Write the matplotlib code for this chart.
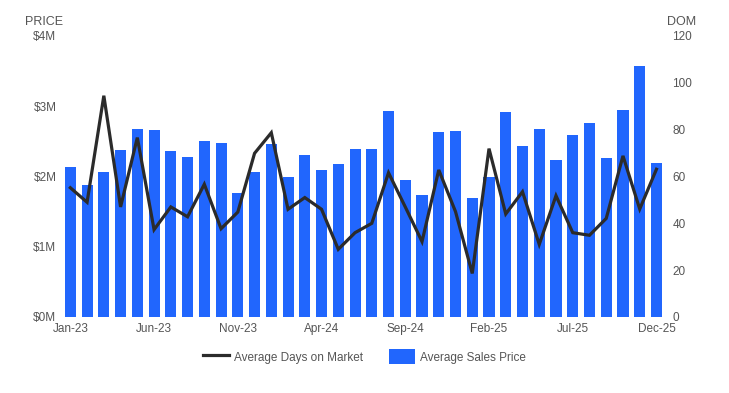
import numpy as np
import matplotlib
matplotlib.use('Agg')
import matplotlib.pyplot as plt
from matplotlib.lines import Line2D
from matplotlib.patches import Patch

plt.rcParams['font.family'] = ['Liberation Sans', 'DejaVu Sans']

''' data read off the reference chart '''
months = ['Jan-23', 'Feb-23', 'Mar-23', 'Apr-23', 'May-23', 'Jun-23', 'Jul-23', 'Aug-23',
          'Sep-23', 'Oct-23', 'Nov-23', 'Dec-23', 'Jan-24', 'Feb-24', 'Mar-24', 'Apr-24',
          'May-24', 'Jun-24', 'Jul-24', 'Aug-24', 'Sep-24', 'Oct-24', 'Nov-24', 'Dec-24',
          'Jan-25', 'Feb-25', 'Mar-25', 'Apr-25', 'May-25', 'Jun-25', 'Jul-25', 'Aug-25',
          'Sep-25', 'Oct-25', 'Nov-25', 'Dec-25']
price_m = [2.14, 1.88, 2.06, 2.38, 2.68, 2.66, 2.36, 2.28, 2.51, 2.48, 1.77, 2.06,
           2.46, 1.99, 2.31, 2.09, 2.18, 2.39, 2.39, 2.93, 1.95, 1.74, 2.63, 2.65,
           1.69, 1.99, 2.92, 2.43, 2.68, 2.24, 2.59, 2.76, 2.26, 2.95, 3.57, 2.19]
dom = [55.2, 49.0, 94.5, 47.0, 76.6, 37.3, 47.0, 42.8, 56.7, 37.7, 44.8, 69.9,
       78.7, 46.0, 51.0, 46.0, 28.9, 36.0, 40.0, 61.6, 47.0, 32.2, 62.8, 45.0,
       18.6, 71.9, 44.0, 53.5, 31.0, 51.8, 36.0, 34.9, 42.1, 68.8, 46.1, 63.1]
price_ticks = [0, 1, 2, 3, 4]
dom_ticks = [0, 20, 40, 60, 80, 100, 120]

blue = '#2166fd'
dark = '#2b2b2b'
grey = '#555555'

fig = plt.figure(figsize=(7.29, 3.93), dpi=100)
ax = fig.add_axes([0.085, 0.1934, 0.827, 0.715])
ax2 = ax.twinx()

x = np.arange(len(months))
ax.bar(x, price_m, width=0.66, color=blue, zorder=1)
ax2.plot(x, dom, color=dark, linewidth=2.3, solid_joinstyle='miter', zorder=3)

ax.set_xlim(-0.5, len(months) - 0.5)
ax.set_ylim(0, 4)
ax2.set_ylim(0, 120)

ax.set_yticks(price_ticks)
ax.set_yticklabels(['$%dM' % t for t in price_ticks])
ax2.set_yticks(dom_ticks)
ax.set_xticks(x[::5])
ax.set_xticklabels(months[::5])

for a in (ax, ax2):
    for s in a.spines.values():
        s.set_visible(False)
    a.tick_params(length=0, labelsize=8.5, colors=grey)
ax.tick_params(axis='y', pad=4)
ax.tick_params(axis='x', pad=4)
ax2.tick_params(axis='y', pad=5.5)

fig.text(0.034, 0.945, 'PRICE', fontsize=9, color=grey, ha='left', va='center')
fig.text(0.915, 0.945, 'DOM', fontsize=9, color=grey, ha='left', va='center')

handles = [Line2D([0], [0], color=dark, linewidth=2.3),
           Patch(facecolor=blue)]
fig.legend(handles, ['Average Days on Market', 'Average Sales Price'],
           loc='center', bbox_to_anchor=(0.5, 0.092), ncol=2, frameon=False,
           fontsize=8.5, labelcolor=grey, handlelength=2.2, handleheight=1.6,
           columnspacing=2.2, handletextpad=0.4)

fig.savefig('out.png', dpi=100)
